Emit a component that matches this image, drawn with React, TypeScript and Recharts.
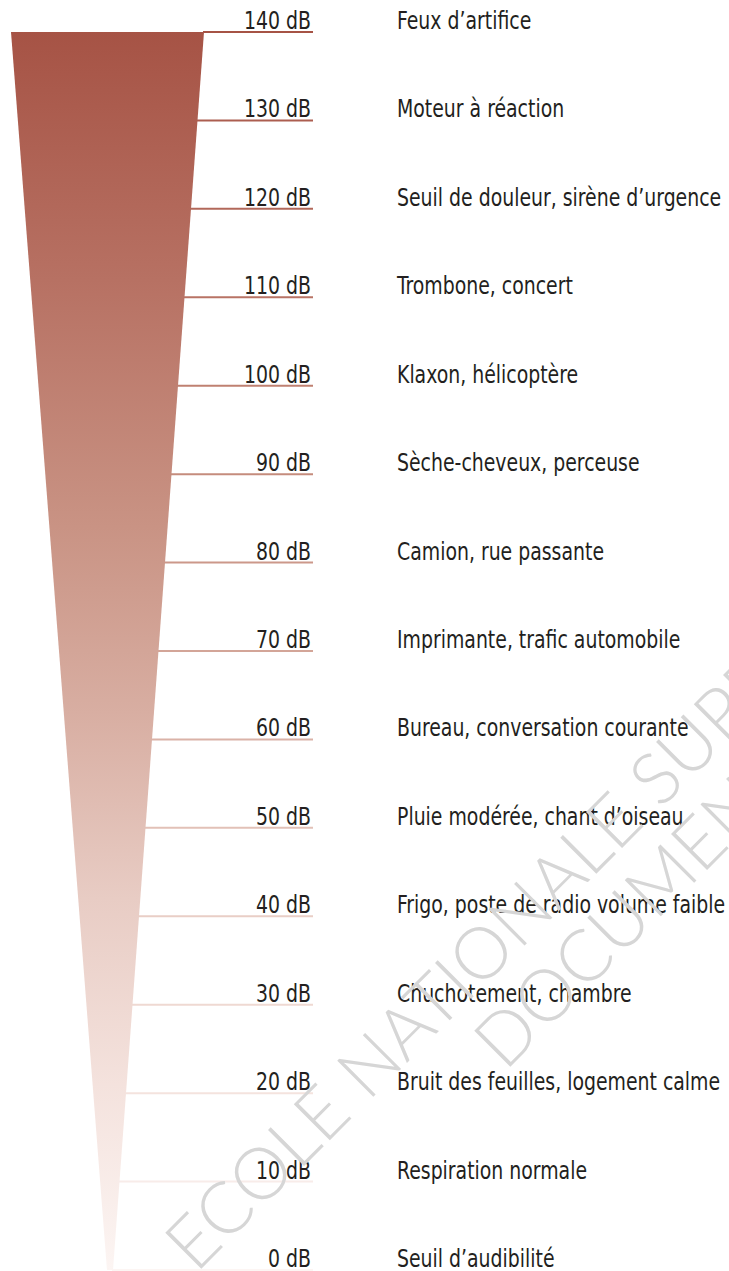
import React from "react";
import { ComposedChart, Area, XAxis, YAxis, ReferenceLine } from "recharts";

/* ─── Data ──────────────────────────────────────────────────── */

const levels = [0, 10, 20, 30, 40, 50, 60, 70, 80, 90, 100, 110, 120, 130, 140];

const sources = [
  "Seuil d’audibilité",
  "Respiration normale",
  "Bruit des feuilles, logement calme",
  "Chuchotement, chambre",
  "Frigo, poste de radio volume faible",
  "Pluie modérée, chant d’oiseau",
  "Bureau, conversation courante",
  "Imprimante, trafic automobile",
  "Camion, rue passante",
  "Sèche-cheveux, perceuse",
  "Klaxon, hélicoptère",
  "Trombone, concert",
  "Seuil de douleur, sirène d’urgence",
  "Moteur à réaction",
  "Feux d’artifice",
];

// wedge edges at the bottom and top of the scale
const wedgeDb = [0, 140];
const wedgeLeft = [-2, -98];
const wedgeRight = [4, 95];

/* ─── Styles ────────────────────────────────────────────────── */

const W = 729;
const H = 1271;
const X_MIN = -109;
const X_MAX = 204;
const FONT = "'Liberation Sans Narrow', 'DejaVu Sans Condensed', 'DejaVu Sans', sans-serif";
const TEXT = "#231f20";
const SQUEEZE = 0.875; // narrower glyphs, like the condensed face of the original

// gradient from top (loud) to bottom (quiet)
const STOPS: [number, string][] = [
  [0, "#a65345"],
  [0.2, "#b77163"],
  [0.4, "#c99384"],
  [0.55, "#d8aea2"],
  [0.7, "#e8ccc4"],
  [0.85, "#f4e2dd"],
  [1, "#fcf5f3"],
];

function hex(c: string) {
  return [1, 3, 5].map((i) => parseInt(c.slice(i, i + 2), 16));
}

function colorAt(db: number) {
  const t = 1 - db / 140;
  for (let i = 1; i < STOPS.length; i++) {
    const [t1, c1] = STOPS[i];
    const [t0, c0] = STOPS[i - 1];
    if (t <= t1) {
      const k = (t - t0) / (t1 - t0);
      const a = hex(c0);
      const b = hex(c1);
      const m = a.map((v, j) => Math.round(v + (b[j] - v) * k));
      return `rgb(${m.join(",")})`;
    }
  }
  return STOPS[STOPS.length - 1][1];
}

function edgeAt(db: number) {
  const k = (db - wedgeDb[0]) / (wedgeDb[1] - wedgeDb[0]);
  return wedgeRight[0] + (wedgeRight[1] - wedgeRight[0]) * k;
}

const wedgeData = wedgeDb.map((db, i) => ({ db, span: [wedgeLeft[i], wedgeRight[i]] }));

/* ─── Tick ──────────────────────────────────────────────────── */

function LevelTick(props: any) {
  const { x, y, payload } = props;
  const i = levels.indexOf(payload.value);
  return (
    <g fontFamily={FONT} fontStretch="condensed" fontSize={24} fill={TEXT}>
      <text transform={`translate(${x - 2},${y - 3}) scale(${SQUEEZE},1)`} textAnchor="end">
        {payload.value} dB
      </text>
      <text transform={`translate(${x + 84},${y - 3}) scale(${SQUEEZE},1)`} textAnchor="start">
        {sources[i]}
      </text>
    </g>
  );
}

/* ─── Component ─────────────────────────────────────────────── */

export default function App() {
  return (
    <div style={{ position: "absolute", left: 0, top: 0, width: W, height: H, background: "#fff" }}>
      <ComposedChart
        width={W}
        height={H}
        data={wedgeData}
        layout="vertical"
        margin={{ top: 32, right: 0, bottom: 1, left: 0 }}
      >
        <defs>
          <linearGradient id="wedge" x1="0" y1="0" x2="0" y2="1">
            {STOPS.map(([o, c]) => (
              <stop key={o} offset={o} stopColor={c} />
            ))}
          </linearGradient>
        </defs>
        <XAxis type="number" domain={[X_MIN, X_MAX]} hide allowDataOverflow />
        <YAxis
          type="number"
          dataKey="db"
          orientation="right"
          domain={[0, 140]}
          reversed
          ticks={levels}
          interval={0}
          width={416}
          axisLine={false}
          tickLine={false}
          tickSize={0}
          tickMargin={0}
          tick={<LevelTick />}
        />
        <Area
          type="linear"
          dataKey="span"
          stroke="none"
          fill="url(#wedge)"
          fillOpacity={1}
          isAnimationActive={false}
        />
        {levels.map((db) => (
          <ReferenceLine
            key={db}
            segment={[
              { x: edgeAt(db) - 1, y: db },
              { x: X_MAX, y: db },
            ]}
            stroke={colorAt(db)}
            strokeWidth={2}
            ifOverflow="visible"
          />
        ))}
      </ComposedChart>

      {/* watermark */}
      <svg
        width={W}
        height={H}
        style={{ position: "absolute", left: 0, top: 0, pointerEvents: "none" }}
      >
        <g fontFamily="Lato, 'DejaVu Sans', sans-serif" fontWeight={300} fill="#d6d6d6" fontSize={72}>
          <text transform="translate(196,1274) rotate(-45)">ECOLE NATIONALE SUPERIEURE</text>
          <text transform="translate(505,1072) rotate(-45)">DOCUMENTATION</text>
        </g>
      </svg>
    </div>
  );
}
